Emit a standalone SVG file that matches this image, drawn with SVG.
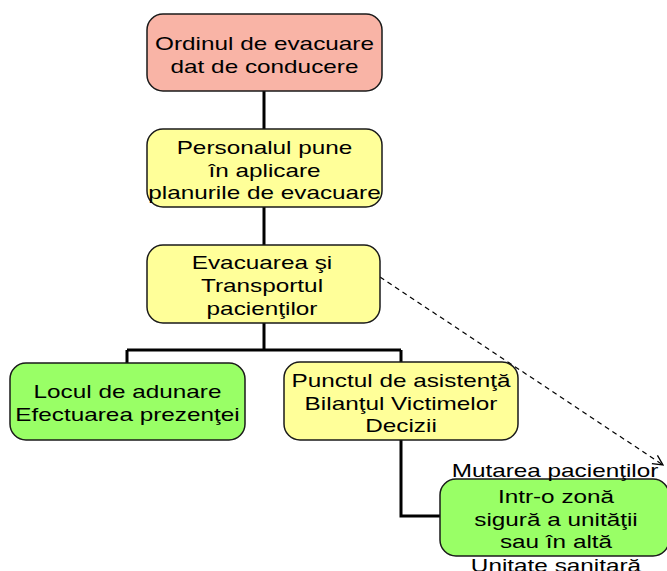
<svg xmlns="http://www.w3.org/2000/svg" width="667" height="571" viewBox="0 0 667 571">
<defs>
<style>
.box{stroke:#1a1a1a;stroke-width:1.5}
.red{fill:#F9B4A6}
.yel{fill:#FFFF99}
.grn{fill:#99FF66}
text{font-family:"Liberation Sans",Arial,sans-serif;font-size:19px;fill:#000;text-anchor:middle}
.conn{fill:none;stroke:#000;stroke-width:3}
.dash{fill:none;stroke:#000;stroke-width:1.2;stroke-dasharray:5 4}
</style>
<marker id="arr" viewBox="0 0 12 12" refX="11" refY="6" markerWidth="12" markerHeight="12" markerUnits="userSpaceOnUse" orient="auto">
<path d="M1,1 L11,6 L1,11" fill="none" stroke="#000" stroke-width="1.3"/>
</marker>
</defs>
<rect width="667" height="571" fill="#fff"/>
<g id="connectors">
<path class="conn" d="M264,91 V129 M264,207 V245 M264,323 V350 M127,350 H401 M127,350 V363 M401,350 V362 M401,440 V516 H440"/>
<path class="dash" d="M380,277 L663,465" marker-end="url(#arr)"/>
</g>
<g id="n1">
<rect class="box red" x="147" y="14" width="235" height="77" rx="16"/>
<text transform="translate(264.5,50) scale(1.28,1)">Ordinul de evacuare</text>
<text transform="translate(264.5,73) scale(1.28,1)">dat de conducere</text>
</g>
<g id="n2">
<rect class="box yel" x="147" y="129" width="235" height="78" rx="16"/>
<text transform="translate(264.5,154) scale(1.28,1)">Personalul pune</text>
<text transform="translate(264.5,176.5) scale(1.28,1)">în aplicare</text>
<text transform="translate(264.5,199) scale(1.28,1)">planurile de evacuare</text>
</g>
<g id="n3">
<rect class="box yel" x="147" y="245" width="233" height="78" rx="16"/>
<text transform="translate(262,269) scale(1.28,1)">Evacuarea şi</text>
<text transform="translate(262,292) scale(1.28,1)">Transportul</text>
<text transform="translate(262,315) scale(1.28,1)">pacienţilor</text>
</g>
<g id="n4">
<rect class="box grn" x="10" y="363" width="235" height="77" rx="16"/>
<text transform="translate(127.5,398) scale(1.28,1)">Locul de adunare</text>
<text transform="translate(127.5,421) scale(1.28,1)">Efectuarea prezenţei</text>
</g>
<g id="n5">
<rect class="box yel" x="284" y="362" width="234" height="78" rx="16"/>
<text transform="translate(401,387) scale(1.28,1)">Punctul de asistenţă</text>
<text transform="translate(401,410) scale(1.28,1)">Bilanţul Victimelor</text>
<text transform="translate(401,432) scale(1.28,1)">Decizii</text>
</g>
<g id="n6">
<rect class="box grn" x="440" y="479" width="229" height="77" rx="16"/>
<text transform="translate(555,477) scale(1.28,1)">Mutarea pacienţilor</text>
<text transform="translate(556,503) scale(1.28,1)">Intr-o zonă</text>
<text transform="translate(556,526) scale(1.28,1)">sigură a unităţii</text>
<text transform="translate(556,548) scale(1.28,1)">sau în altă</text>
<text transform="translate(556,572) scale(1.28,1)">Unitate sanitară</text>
</g>
</svg>
